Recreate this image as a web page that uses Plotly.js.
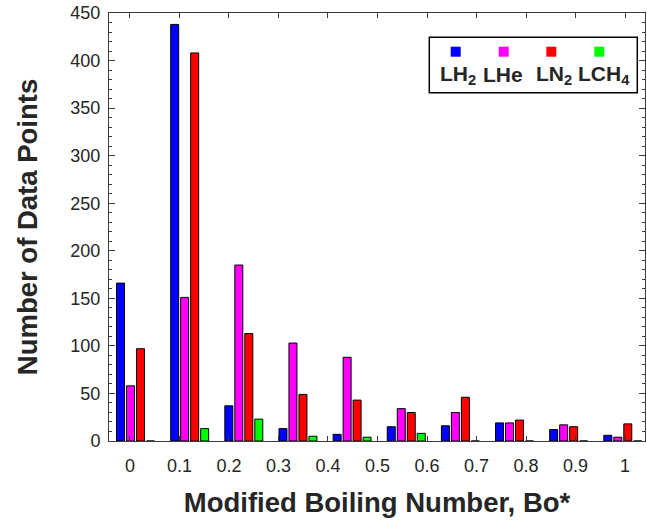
<!DOCTYPE html>
<html>
<head>
<meta charset="utf-8">
<script src="https://cdn.plot.ly/plotly-3.0.1.min.js"></script>
<style>
  html, body { margin: 0; padding: 0; background: #fff; }
  #chart { width: 647px; height: 525px; }
</style>
</head>
<body>
<div id="chart"></div>
<script>
// Histogram groups (one group of four bars per bin)
const binNo = [1, 2, 3, 4, 5, 6, 7, 8, 9, 10];

// Number of data points per fluid
const lh2  = [166, 438, 37, 13, 7, 15, 16, 19, 12, 6];
const lhe  = [58, 151, 185, 103, 88, 34, 30, 19, 17, 4];
const ln2  = [97, 408, 113, 49, 43, 30, 46, 22, 15, 18];
const lch4 = [0, 13, 23, 5, 4, 8, 0, 0, 0, 0];

const seriesNames  = ['LH2', 'LHe', 'LN2', 'LCH4'];
const seriesLabels = ['LH<sub>2</sub>', 'LHe', 'LN<sub>2</sub>', 'LCH<sub>4</sub>'];
const seriesColors = ['#0000ff', '#ff00ff', '#ff0000', '#00ff00'];
const seriesValues = [lh2, lhe, ln2, lch4];

// Bo* tick labels along the bottom axis
const boTicks = [0, 0.1, 0.2, 0.3, 0.4, 0.5, 0.6, 0.7, 0.8, 0.9, 1];
const boTickText = ['0', '0.1', '0.2', '0.3', '0.4', '0.5', '0.6', '0.7', '0.8', '0.9', '1'];

const FONT = '"Liberation Sans", Arial, Helvetica, sans-serif';
const INK = '#262626';
const AXIS = '#3a3a3a';

// Plot area in pixels, used to place the legend box
const PLOT_L = 109, PLOT_W = 536, PLOT_B = 441, PLOT_H = 428;
const px2x = p => (p - PLOT_L) / PLOT_W;
const px2y = p => (PLOT_B - p) / PLOT_H;

const traces = seriesValues.map((vals, i) => ({
  type: 'bar',
  name: seriesNames[i],
  x: binNo,
  y: vals,
  xaxis: 'x',
  yaxis: 'y',
  marker: { color: seriesColors[i], line: { color: '#000000', width: 1 } },
  showlegend: false,
  hoverinfo: 'x+y+name'
}));

// Invisible trace that carries the Bo* axis
traces.push({
  type: 'scatter', mode: 'markers',
  x: [boTicks[0], boTicks[boTicks.length - 1]], y: [0, 0],
  xaxis: 'x2', yaxis: 'y',
  marker: { opacity: 0 }, showlegend: false, hoverinfo: 'skip'
});

// Legend: a framed box with a colour swatch above each label
const shapes = [{
  type: 'rect', xref: 'paper', yref: 'paper',
  x0: px2x(429.3), x1: px2x(637.3), y0: px2y(92.7), y1: px2y(37.3),
  line: { color: '#000000', width: 1.5 }, fillcolor: '#ffffff', layer: 'above'
}];
const annotations = [];
const swatchPx = [455.7, 503.7, 551.3, 599.3];
const labelPx  = [457.5, 502.5, 553.5, 603.5];
seriesNames.forEach((n, i) => {
  shapes.push({
    type: 'rect', xref: 'paper', yref: 'paper',
    xsizemode: 'pixel', ysizemode: 'pixel',
    xanchor: px2x(swatchPx[i]), yanchor: px2y(51.7),
    x0: -5, x1: 5, y0: -5, y1: 5,
    line: { width: 0 }, fillcolor: seriesColors[i], layer: 'above'
  });
  annotations.push({
    xref: 'paper', yref: 'paper',
    x: px2x(labelPx[i]), y: px2y(75),
    xanchor: 'center', yanchor: 'middle',
    text: seriesLabels[i], showarrow: false,
    font: { family: FONT, size: 21, color: INK, weight: 'bold' }
  });
});

const layout = {
  width: 647, height: 525,
  margin: { l: PLOT_L, r: 647 - PLOT_L - PLOT_W, t: 13, b: 525 - PLOT_B },
  paper_bgcolor: '#ffffff', plot_bgcolor: '#ffffff',
  barmode: 'group', bargap: 0.262, bargroupgap: 0.2,
  font: { family: FONT, color: INK, size: 18 },
  xaxis: {
    range: [0.51, 10.41], showticklabels: false, ticks: '',
    showgrid: false, zeroline: false, showline: false, fixedrange: true
  },
  xaxis2: {
    overlaying: 'x', anchor: 'y', side: 'bottom',
    range: [-0.0424, 1.0404],
    tickvals: boTicks, ticktext: boTickText,
    ticks: 'inside', ticklen: 5, tickwidth: 1, tickcolor: AXIS,
    showline: true, linecolor: AXIS, linewidth: 1, mirror: 'ticks',
    showgrid: false, zeroline: false,
    tickfont: { family: FONT, size: 18, color: INK },
    ticklabelstandoff: 8,
    title: { text: 'Modified Boiling Number, Bo*', standoff: 18,
             font: { family: FONT, size: 27.5, color: INK, weight: 'bold' } }
  },
  yaxis: {
    range: [0, 450], dtick: 50, tick0: 0,
    ticks: 'inside', ticklen: 6, tickwidth: 1, tickcolor: AXIS,
    minor: { dtick: 10, ticks: 'inside', ticklen: 3, tickcolor: AXIS, showgrid: false },
    showline: true, linecolor: AXIS, linewidth: 1, mirror: 'ticks',
    showgrid: false, zeroline: false,
    tickfont: { family: FONT, size: 18, color: INK },
    ticklabelstandoff: 4,
    title: { text: 'Number of Data Points', standoff: 24,
             font: { family: FONT, size: 27.5, color: INK, weight: 'bold' } }
  },
  shapes: shapes,
  annotations: annotations
};

Plotly.newPlot('chart', traces, layout, { displayModeBar: false, staticPlot: true });
</script>
</body>
</html>
